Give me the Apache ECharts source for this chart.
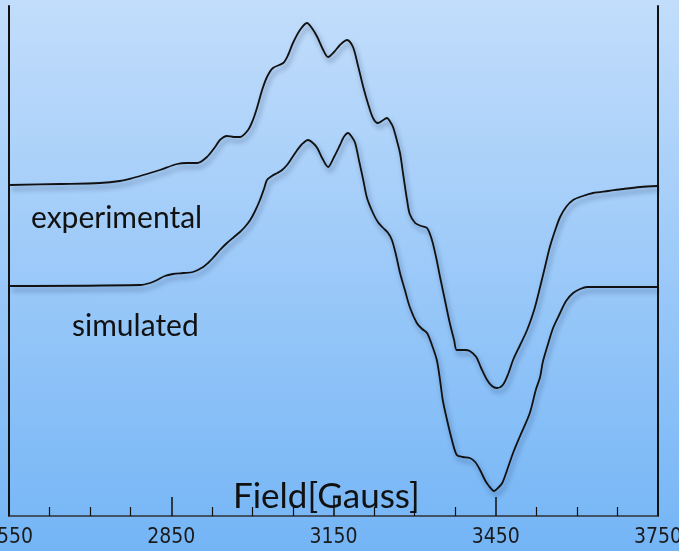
<!DOCTYPE html>
<html>
<head>
<meta charset="utf-8">
<script src="https://cdn.jsdelivr.net/npm/echarts@6/dist/echarts.min.js"></script>
<style>
  html, body { margin: 0; padding: 0; }
  #chart { width: 679px; height: 551px; }
</style>
</head>
<body>
<div id="chart"></div>
<script>
// EPR spectrum: magnetic field (Gauss) vs. derivative signal (arbitrary units, offset traces)
const fieldTicks = [2550, 2850, 3150, 3450, 3750];

const experimentalField = [
  2552, 2644, 2718, 2755, 2779, 2805, 2829, 2861, 2879, 2898,
  2916, 2931, 2940, 2953, 2966, 2977, 2992, 3001, 3009, 3018,
  3027, 3038, 3057, 3066, 3075, 3088, 3101, 3110, 3120, 3131,
  3140, 3151, 3162, 3175, 3186, 3195, 3205, 3214, 3223, 3232,
  3242, 3249, 3254, 3260, 3267, 3273, 3279, 3286, 3291, 3301,
  3312, 3323, 3332, 3340, 3347, 3356, 3365, 3373, 3378, 3393,
  3402, 3414, 3423, 3434, 3443, 3452, 3463, 3473, 3482, 3495,
  3508, 3521, 3532, 3541, 3550, 3560, 3569, 3580, 3593, 3611,
  3630, 3658, 3685, 3717, 3749
];
const experimentalSignal = [
  331, 332, 333, 335, 338, 342, 346, 352, 353, 353,
  359, 369, 376, 380, 379, 379, 386, 396, 409, 426,
  439, 448, 453, 461, 473, 486, 493, 488, 479, 466,
  459, 464, 471, 476, 469, 451, 429, 412, 398, 393,
  396, 398, 395, 389, 376, 363, 341, 316, 302, 293,
  290, 288, 276, 258, 239, 216, 193, 176, 166, 166,
  165, 159, 148, 136, 130, 128, 131, 142, 156, 171,
  186, 206, 229, 249, 269, 286, 299, 309, 316, 320,
  323, 325, 327, 329, 330
];

const simulatedField = [
  2552, 2792, 2811, 2824, 2838, 2853, 2872, 2890, 2909, 2918,
  2927, 2940, 2953, 2966, 2977, 2986, 2996, 3005, 3014, 3022,
  3027, 3036, 3046, 3055, 3064, 3073, 3083, 3092, 3103, 3112,
  3120, 3129, 3140, 3151, 3162, 3169, 3177, 3184, 3190, 3197,
  3205, 3212, 3223, 3232, 3242, 3251, 3258, 3266, 3273, 3282,
  3291, 3304, 3314, 3323, 3332, 3341, 3347, 3352, 3360, 3369,
  3378, 3389, 3402, 3412, 3421, 3430, 3436, 3447, 3454, 3462,
  3471, 3482, 3495, 3513, 3524, 3532, 3537, 3545, 3556, 3569,
  3580, 3593, 3606, 3619, 3680, 3749
];
const simulatedSignal = [
  230, 231, 233, 236, 240, 242, 243, 244, 249, 253,
  258, 266, 273, 279, 284, 289, 296, 305, 316, 328,
  336, 340, 343, 346, 351, 358, 366, 372, 376, 373,
  368, 358, 349, 359, 371, 379, 383, 379, 373, 356,
  336, 318, 303, 294, 288, 283, 276, 260, 243, 226,
  209, 193, 187, 183, 171, 156, 136, 116, 96, 76,
  61, 59, 58, 54, 46, 36, 31, 25, 28, 33,
  46, 63, 80, 103, 126, 139, 154, 169, 188, 203,
  215, 223, 227, 229, 229, 229
];

const pair = (xs, ys) => xs.map((x, i) => [x, ys[i]]);

const traceStyle = {
  color: '#111',
  width: 1.8,
  shadowColor: 'rgba(10, 30, 70, 0.45)',
  shadowBlur: 5,
  shadowOffsetX: 2,
  shadowOffsetY: 4
};

const labelShadow = {
  shadowColor: 'rgba(10, 30, 70, 0.55)',
  shadowBlur: 5,
  shadowOffsetX: 2,
  shadowOffsetY: 3
};

const chart = echarts.init(document.getElementById('chart'));
chart.setOption({
  animation: false,
  backgroundColor: {
    type: 'linear', x: 0, y: 0, x2: 0, y2: 1,
    colorStops: [
      { offset: 0, color: '#c2ddfb' },
      { offset: 1, color: '#74b5f6' }
    ]
  },
  grid: { left: 9, right: 21, top: 6, bottom: 35, containLabel: false, outerBoundsMode: 'none' },
  xAxis: [
    {
      type: 'value',
      min: fieldTicks[0],
      max: fieldTicks[fieldTicks.length - 1],
      interval: 300,
      position: 'bottom',
      axisLine: { show: true, lineStyle: { color: '#111', width: 1.5 } },
      axisTick: { show: true, inside: true, length: 19, lineStyle: { color: '#111', width: 1.5 } },
      minorTick: { show: true, splitNumber: 4, length: 9, lineStyle: { color: '#111', width: 1.2 } },
      axisLabel: {
        show: true,
        margin: 11,
        color: '#1a1a1a',
        fontSize: 21,
        hideOverlap: false,
        showMinLabel: true,
        showMaxLabel: true,
        fontFamily: "'Liberation Sans Narrow', 'DejaVu Sans Condensed', 'DejaVu Sans Mono', monospace",
        formatter: v => (fieldTicks.indexOf(v) >= 0 ? String(v) : '')
      },
      splitLine: { show: false }
    },
    {
      type: 'value',
      min: fieldTicks[0],
      max: fieldTicks[fieldTicks.length - 1],
      position: 'top',
      axisLine: { show: true, lineStyle: { color: '#4c5a6e', width: 1.5 } },
      axisTick: { show: false },
      axisLabel: { show: false },
      splitLine: { show: false }
    }
  ],
  yAxis: [
    {
      type: 'value',
      min: 0,
      max: 510,
      position: 'left',
      axisLine: { show: true, lineStyle: { color: '#111', width: 2 } },
      axisTick: { show: false },
      axisLabel: { show: false },
      splitLine: { show: false }
    },
    {
      type: 'value',
      min: 0,
      max: 510,
      position: 'right',
      axisLine: { show: true, lineStyle: { color: '#111', width: 2 } },
      axisTick: { show: false },
      axisLabel: { show: false },
      splitLine: { show: false }
    }
  ],
  series: [
    {
      name: 'experimental',
      type: 'line',
      data: pair(experimentalField, experimentalSignal),
      showSymbol: false,
      smooth: 0.3,
      lineStyle: traceStyle
    },
    {
      name: 'simulated',
      type: 'line',
      data: pair(simulatedField, simulatedSignal),
      showSymbol: false,
      smooth: 0.3,
      lineStyle: traceStyle
    }
  ],
  graphic: [
    {
      type: 'text', left: 31, top: 203, z: 10,
      style: Object.assign({
        text: 'experimental', fill: '#111',
        font: "30px Lato, 'Open Sans', sans-serif"
      }, labelShadow)
    },
    {
      type: 'text', left: 72, top: 311, z: 10,
      style: Object.assign({
        text: 'simulated', fill: '#111',
        font: "30px Lato, 'Open Sans', sans-serif"
      }, labelShadow)
    },
    {
      type: 'text', left: 233, top: 479, z: 10,
      style: Object.assign({
        text: 'Field[Gauss]', fill: '#111',
        font: "35px Lato, 'Open Sans', sans-serif"
      }, labelShadow)
    }
  ]
});
</script>
</body>
</html>
